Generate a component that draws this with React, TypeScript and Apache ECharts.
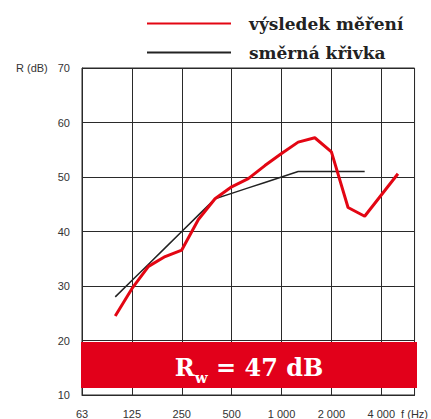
import React, { useEffect, useRef } from "react";
import * as echarts from "echarts";

// third-octave band centre frequencies (Hz)
const measuredFrequencies = [100, 125, 160, 200, 250, 315, 400, 500, 630, 800, 1000, 1250, 1600, 2000, 2500, 3150, 4000, 5000];
const measuredValues = [24.5, 29.5, 33.6, 35.4, 36.6, 42.2, 46.0, 48.2, 49.7, 52.1, 54.3, 56.4, 57.2, 54.6, 44.4, 42.8, 46.7, 50.6];

const referenceFrequencies = [100, 125, 160, 200, 250, 315, 400, 500, 630, 800, 1000, 1250, 1600, 2000, 2500, 3150];
const referenceValues = [28, 31, 34, 37, 40, 43, 46, 47, 48, 49, 50, 51, 51, 51, 51, 51];

const xTickLabels = ["63", "125", "250", "500", "1 000", "2 000", "4 000"];
const xAxisUnitLabel = "f (Hz)";
const yAxisUnitLabel = "R (dB)";
const seriesNames = ["výsledek měření", "směrná křivka"];
const ratingMain = "R";
const ratingSub = "w";
const ratingValue = " = 47 dB";

const BASE_FREQ = 63;
const bandIndex = (f: number) => Math.round(3 * Math.log2(f / BASE_FREQ));

export default function App() {
  const ref = useRef<HTMLDivElement>(null);
  useEffect(() => {
    if (!ref.current) return;
    const chart = echarts.init(ref.current, undefined, { renderer: "svg" });
    const gridColor = "#2a2a2a";
    const labelFont = "Liberation Sans";
    chart.setOption({
      animation: false,
      legend: {
        orient: "vertical",
        left: 146,
        top: 15,
        padding: 0,
        itemWidth: 84,
        itemHeight: 14,
        itemGap: 12,
        data: seriesNames,
        itemStyle: { opacity: 0 },
        textStyle: {
          fontFamily: "DejaVu Serif",
          fontWeight: "bold",
          fontSize: 17,
          color: "#222",
          padding: [0, 0, 0, 13],
        },
      },
      grid: {
        show: true,
        left: 82,
        right: 16,
        top: 68,
        bottom: 18,
        borderColor: gridColor,
        borderWidth: 1,
      },
      xAxis: {
        type: "value",
        min: 0,
        max: 20,
        interval: 3,
        axisLine: { show: true, lineStyle: { color: gridColor, width: 1 } },
        axisTick: { show: false },
        splitLine: { show: true, lineStyle: { color: gridColor, width: 1 } },
        axisLabel: {
          margin: 13,
          fontSize: 11,
          fontFamily: labelFont,
          color: "#333",
          formatter: (v: number) => (v === 20 ? xAxisUnitLabel : xTickLabels[v / 3] ?? ""),
        },
      },
      yAxis: {
        type: "value",
        min: 10,
        max: 70,
        interval: 10,
        axisLine: { show: true, lineStyle: { color: gridColor, width: 1 } },
        axisTick: { show: false },
        splitLine: { show: true, lineStyle: { color: gridColor, width: 1 } },
        axisLabel: {
          margin: 12,
          fontSize: 11,
          fontFamily: labelFont,
          color: "#333",
        },
      },
      series: [
        {
          name: seriesNames[0],
          type: "line",
          symbol: "none",
          z: 4,
          lineStyle: { color: "#e30613", width: 3 },
          itemStyle: { color: "#e30613" },
          data: measuredFrequencies.map((f, i) => [bandIndex(f), measuredValues[i]]),
        },
        {
          name: seriesNames[1],
          type: "line",
          symbol: "none",
          z: 3,
          lineStyle: { color: "#222", width: 1.5 },
          itemStyle: { color: "#222" },
          data: referenceFrequencies.map((f, i) => [bandIndex(f), referenceValues[i]]),
        },
      ],
      graphic: [
        {
          type: "text",
          left: 16,
          top: 62,
          style: {
            text: yAxisUnitLabel,
            font: `11px "${labelFont}"`,
            fill: "#333",
          },
        },
        {
          type: "rect",
          z: 100,
          shape: { x: 81, y: 342, width: 336, height: 46 },
          style: { fill: "#e2001a" },
        },
        {
          type: "text",
          z: 101,
          x: 249,
          y: 367,
          style: {
            text: `{r|${ratingMain}}{s|${ratingSub}}{r|${ratingValue}}`,
            align: "center",
            verticalAlign: "middle",
            textAlign: "center",
            textVerticalAlign: "middle",
            rich: {
              r: { fontSize: 24, fontWeight: "bold", fontFamily: "DejaVu Serif", fill: "#fff", lineHeight: 30 },
              s: { fontSize: 15, fontWeight: "bold", fontFamily: "DejaVu Serif", fill: "#fff", lineHeight: 30, padding: [22, 0, 0, 0] },
            },
          },
        },
      ],
    });
    return () => chart.dispose();
  }, []);
  return (
    <div
      ref={ref}
      style={{ position: "absolute", left: 0, top: 0, width: 431, height: 419, background: "#fff" }}
    />
  );
}
